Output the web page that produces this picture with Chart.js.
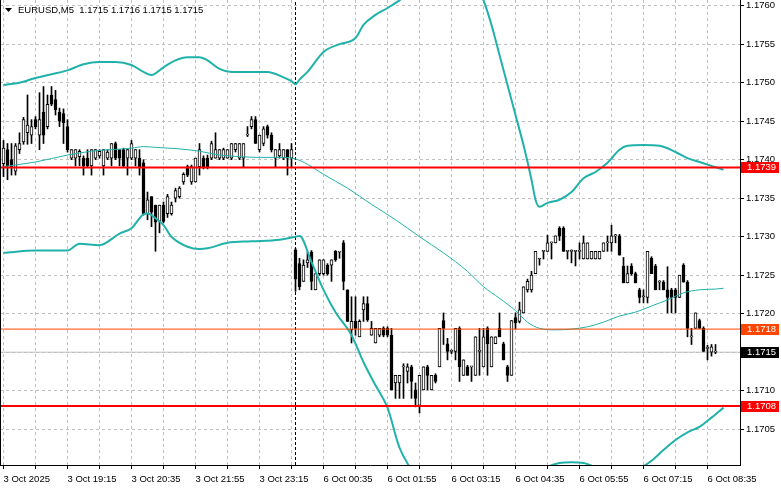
<!DOCTYPE html>
<html>
<head>
<meta charset="utf-8">
<title>EURUSD,M5</title>
<script src="https://cdn.jsdelivr.net/npm/chart.js@4.4.1/dist/chart.umd.min.js"></script>
<style>
  html, body { margin: 0; padding: 0; background: #ffffff; overflow: hidden; }
  canvas { display: block; }
</style>
</head>
<body>
<canvas id="chart" width="781" height="489"></canvas>
<script>
// ---- data (M5 candles, one per bar index) ----
const symbolInfo = "EURUSD,M5  1.1715 1.1716 1.1715 1.1715";
const timeLabels = ["3 Oct 2025", "3 Oct 19:15", "3 Oct 20:35", "3 Oct 21:55", "3 Oct 23:15", "6 Oct 00:35",
  "6 Oct 01:55", "6 Oct 03:15", "6 Oct 04:35", "6 Oct 05:55", "6 Oct 07:15", "6 Oct 08:35"];

const opens = [
  1.17395,1.17413,1.17400,1.17385,1.17413,1.17423,1.17435,1.17432,1.17452,1.17432,
  1.17462,1.17443,1.17484,1.17478,1.17462,1.17460,1.17443,1.17402,1.17402,1.17404,
  1.17402,1.17402,1.17392,1.17402,1.17405,1.17392,1.17402,1.17402,1.17421,1.17413,
  1.17413,1.17402,1.17402,1.17402,1.17402,1.17396,1.17330,1.17352,1.17341,1.17320,
  1.17341,1.17330,1.17330,1.17350,1.17352,1.17371,1.17391,1.17371,1.17371,1.17391,
  1.17402,1.17402,1.17402,1.17402,1.17402,1.17402,1.17402,1.17402,1.17413,1.17402,
  1.17402,1.17432,1.17443,1.17452,1.17413,1.17421,1.17443,1.17432,1.17402,1.17405,
  1.17402,1.17413,1.17402,1.17283,1.17265,1.17242,1.17266,1.17280,1.17231,1.17252,
  1.17252,1.17263,1.17263,1.17281,1.17280,1.17292,1.17231,1.17179,1.17190,1.17170,
  1.17205,1.17213,1.17172,1.17162,1.17172,1.17181,1.17181,1.17172,1.17110,1.17110,
  1.17131,1.17125,1.17131,1.17101,1.17081,1.17101,1.17131,1.17101,1.17120,1.17131,
  1.17191,1.17161,1.17151,1.17151,1.17181,1.17120,1.17131,1.17131,1.17120,1.17151,
  1.17131,1.17181,1.17131,1.17161,1.17181,1.17161,1.17131,1.17120,1.17195,1.17190,
  1.17201,1.17231,1.17231,1.17252,1.17271,1.17281,1.17281,1.17292,1.17292,1.17311,
  1.17311,1.17281,1.17281,1.17281,1.17281,1.17271,1.17271,1.17271,1.17271,1.17271,
  1.17281,1.17292,1.17292,1.17301,1.17301,1.17262,1.17240,1.17262,1.17252,1.17231,
  1.17222,1.17221,1.17272,1.17262,1.17241,1.17241,1.17231,1.17231,1.17231,1.17221,
  1.17263,1.17241,1.17170,1.17181,1.17191,1.17181,1.17155,1.17150,1.17150
];
const highs = [
  1.17425,1.17421,1.17421,1.17421,1.17435,1.17455,1.17484,1.17452,1.17456,1.17487,
  1.17495,1.17484,1.17495,1.17490,1.17467,1.17466,1.17452,1.17413,1.17413,1.17413,
  1.17405,1.17413,1.17413,1.17413,1.17413,1.17413,1.17413,1.17421,1.17423,1.17413,
  1.17415,1.17413,1.17425,1.17413,1.17413,1.17400,1.17358,1.17352,1.17341,1.17341,
  1.17345,1.17355,1.17345,1.17363,1.17365,1.17383,1.17393,1.17393,1.17402,1.17421,
  1.17405,1.17406,1.17424,1.17435,1.17413,1.17415,1.17413,1.17421,1.17421,1.17421,
  1.17421,1.17443,1.17456,1.17456,1.17432,1.17443,1.17445,1.17435,1.17413,1.17421,
  1.17413,1.17413,1.17421,1.17285,1.17272,1.17270,1.17280,1.17282,1.17252,1.17270,
  1.17270,1.17265,1.17270,1.17282,1.17281,1.17295,1.17231,1.17222,1.17222,1.17192,
  1.17222,1.17222,1.17190,1.17181,1.17181,1.17183,1.17183,1.17181,1.17120,1.17120,
  1.17135,1.17135,1.17133,1.17110,1.17120,1.17131,1.17133,1.17120,1.17122,1.17181,
  1.17201,1.17168,1.17153,1.17181,1.17183,1.17140,1.17133,1.17131,1.17170,1.17181,
  1.17181,1.17183,1.17170,1.17170,1.17201,1.17163,1.17133,1.17191,1.17201,1.17215,
  1.17235,1.17245,1.17255,1.17281,1.17272,1.17282,1.17302,1.17293,1.17301,1.17313,
  1.17313,1.17282,1.17283,1.17282,1.17292,1.17301,1.17292,1.17281,1.17281,1.17281,
  1.17292,1.17301,1.17315,1.17303,1.17303,1.17273,1.17262,1.17265,1.17254,1.17233,
  1.17231,1.17281,1.17274,1.17264,1.17243,1.17243,1.17261,1.17233,1.17233,1.17250,
  1.17265,1.17243,1.17181,1.17201,1.17193,1.17183,1.17159,1.17160,1.17160
];
const lows = [
  1.17378,1.17374,1.17380,1.17380,1.17408,1.17420,1.17420,1.17421,1.17440,1.17413,
  1.17421,1.17440,1.17470,1.17458,1.17443,1.17421,1.17410,1.17400,1.17392,1.17392,
  1.17380,1.17390,1.17380,1.17400,1.17402,1.17380,1.17400,1.17392,1.17400,1.17392,
  1.17390,1.17380,1.17400,1.17392,1.17380,1.17328,1.17322,1.17313,1.17281,1.17305,
  1.17318,1.17325,1.17328,1.17345,1.17350,1.17368,1.17378,1.17368,1.17371,1.17380,
  1.17388,1.17388,1.17400,1.17402,1.17400,1.17400,1.17402,1.17400,1.17410,1.17400,
  1.17391,1.17430,1.17440,1.17421,1.17410,1.17418,1.17428,1.17410,1.17391,1.17402,
  1.17400,1.17380,1.17391,1.17229,1.17231,1.17242,1.17260,1.17231,1.17231,1.17250,
  1.17250,1.17250,1.17242,1.17268,1.17272,1.17231,1.17190,1.17162,1.17172,1.17170,
  1.17190,1.17190,1.17172,1.17162,1.17170,1.17170,1.17170,1.17101,1.17090,1.17090,
  1.17090,1.17110,1.17090,1.17079,1.17071,1.17101,1.17101,1.17101,1.17110,1.17131,
  1.17160,1.17140,1.17148,1.17140,1.17112,1.17120,1.17120,1.17112,1.17120,1.17120,
  1.17131,1.17120,1.17131,1.17161,1.17170,1.17140,1.17112,1.17120,1.17180,1.17188,
  1.17201,1.17228,1.17228,1.17252,1.17263,1.17271,1.17281,1.17271,1.17292,1.17295,
  1.17281,1.17271,1.17266,1.17262,1.17271,1.17271,1.17271,1.17271,1.17271,1.17271,
  1.17281,1.17281,1.17281,1.17292,1.17276,1.17240,1.17240,1.17250,1.17240,1.17214,
  1.17214,1.17214,1.17252,1.17231,1.17231,1.17231,1.17201,1.17201,1.17201,1.17221,
  1.17241,1.17170,1.17160,1.17181,1.17181,1.17151,1.17140,1.17145,1.17148
];
const closes = [
  1.17415,1.17392,1.17390,1.17418,1.17421,1.17452,1.17445,1.17443,1.17443,1.17452,
  1.17432,1.17472,1.17472,1.17465,1.17450,1.17448,1.17413,1.17413,1.17413,1.17411,
  1.17392,1.17392,1.17413,1.17413,1.17411,1.17413,1.17410,1.17421,1.17402,1.17402,
  1.17392,1.17413,1.17421,1.17413,1.17391,1.17330,1.17348,1.17332,1.17319,1.17341,
  1.17320,1.17352,1.17341,1.17360,1.17363,1.17381,1.17380,1.17391,1.17402,1.17413,
  1.17391,1.17391,1.17421,1.17413,1.17413,1.17413,1.17413,1.17421,1.17421,1.17421,
  1.17421,1.17433,1.17452,1.17421,1.17432,1.17440,1.17432,1.17413,1.17413,1.17413,
  1.17413,1.17402,1.17413,1.17245,1.17235,1.17263,1.17270,1.17242,1.17252,1.17270,
  1.17270,1.17252,1.17270,1.17270,1.17280,1.17242,1.17190,1.17190,1.17181,1.17190,
  1.17213,1.17192,1.17181,1.17181,1.17181,1.17172,1.17172,1.17101,1.17120,1.17120,
  1.17131,1.17131,1.17112,1.17090,1.17120,1.17131,1.17120,1.17120,1.17112,1.17181,
  1.17181,1.17151,1.17151,1.17181,1.17131,1.17140,1.17120,1.17131,1.17170,1.17151,
  1.17170,1.17161,1.17170,1.17170,1.17170,1.17140,1.17120,1.17191,1.17188,1.17205,
  1.17235,1.17242,1.17250,1.17281,1.17271,1.17281,1.17292,1.17292,1.17301,1.17301,
  1.17281,1.17281,1.17281,1.17281,1.17281,1.17292,1.17292,1.17281,1.17281,1.17281,
  1.17292,1.17292,1.17301,1.17301,1.17276,1.17240,1.17252,1.17252,1.17240,1.17221,
  1.17222,1.17281,1.17252,1.17231,1.17241,1.17231,1.17221,1.17221,1.17221,1.17250,
  1.17241,1.17181,1.17170,1.17201,1.17181,1.17151,1.17155,1.17157,1.17150
];

// Bollinger bands, read at selected bar indices
const upperIdx = [0,4,8,12,16,20,24,28,32,35,37,40,43,46,49,51,54,57,62,66,70,72,73,74,76,80,84,88,90,93,96,99,102,106,110,114,118,120,122,124,126,128,130,132,133,134,136,139,142,145,148,151,154,156,160,164,168,171,174,177,180];
const upperBand = [1.17497,1.17500,1.17506,1.17511,1.17516,1.17524,1.17527,1.17527,1.17523,1.17514,1.17510,1.17520,1.17529,1.17533,1.17533,1.17529,1.17518,1.17514,1.17514,1.17514,1.17507,1.17502,1.17498,1.17504,1.17514,1.17540,1.17550,1.17558,1.17575,1.17588,1.17597,1.17607,1.17618,1.17633,1.17646,1.17649,1.17627,1.17607,1.17575,1.17536,1.17497,1.17458,1.17419,1.17374,1.17348,1.17339,1.17344,1.17348,1.17358,1.17376,1.17384,1.17396,1.17413,1.17418,1.17419,1.17418,1.17410,1.17402,1.17397,1.17392,1.17387];
const middleIdx = [0,8,16,22,32,35,38,44,49,54,59,64,70,73,76,80,86,92,98,104,110,116,120,124,128,131,134,138,142,146,150,154,158,162,166,170,174,178,180];
const middleBand = [1.17391,1.17397,1.17406,1.17411,1.17415,1.17417,1.17416,1.17414,1.17411,1.17406,1.17404,1.17403,1.17403,1.17401,1.17394,1.17381,1.17363,1.17342,1.17322,1.17300,1.17279,1.17255,1.17235,1.17220,1.17204,1.17189,1.17181,1.17179,1.17180,1.17183,1.17189,1.17197,1.17202,1.17210,1.17218,1.17227,1.17231,1.17232,1.17233];
const lowerIdx = [0,8,16,19,24,29,32,35,36,38,40,42,46,49,51,56,62,69,73,74,77,80,83,87,90,93,96,99,102,106,110,114,118,122,126,130,134,136,139,142,145,148,152,156,160,162,165,168,171,174,177,180];
const lowerBand = [1.17279,1.17282,1.17282,1.17291,1.17289,1.17304,1.17311,1.17329,1.17330,1.17324,1.17315,1.17300,1.17287,1.17284,1.17285,1.17292,1.17294,1.17296,1.17300,1.17301,1.17267,1.17231,1.17202,1.17172,1.17137,1.17107,1.17078,1.17026,1.16997,1.16964,1.16932,1.16900,1.16874,1.16893,1.16932,1.16965,1.16994,1.17001,1.17006,1.17007,1.17006,1.17001,1.16994,1.16994,1.17002,1.17009,1.17023,1.17036,1.17046,1.17053,1.17065,1.17078];

const priceTicks = [1.1705, 1.1710, 1.1715, 1.1720, 1.1725, 1.1730, 1.1735, 1.1740, 1.1745, 1.1750, 1.1755, 1.1760];
const levelPrices = [1.1739, 1.1718, 1.1708];
const lastPrice = 1.1715;
const separatorBar = 73;

// ---- view window: 4 px per bar, price range of the visible pane ----
const barMin = -0.875;
const barMax = 184.125;
const priceMin = 1.170035;
const priceMax = 1.176074;
const labelEvery = 16;
const gridEvery = 8;

const FONT = '"Liberation Sans", Arial, sans-serif';
const FONT_SIZE = 9.5;
const TEAL = "#20b2aa";
const levelColors = ["#ff0000", "#ff4500", "#ff0000"];

function pts(idx, vals) {
  return idx.map((x, k) => ({ x: x, y: vals[k] }));
}

function hline(price) {
  return [{ x: barMin - 1, y: price }, { x: barMax + 1, y: price }];
}

const overlayPlugin = {
  id: "overlay",
  afterDraw(chart) {
    const { ctx, chartArea } = chart;
    const yScale = chart.scales.y;
    ctx.save();
    // left frame line
    ctx.strokeStyle = "#000";
    ctx.lineWidth = 1;
    ctx.beginPath();
    ctx.moveTo(chartArea.left + 0.5, chartArea.top);
    ctx.lineTo(chartArea.left + 0.5, chartArea.bottom);
    ctx.stroke();

    // price tags on the right axis
    ctx.font = FONT_SIZE + "px " + FONT;
    ctx.textBaseline = "middle";
    ctx.textAlign = "left";
    const tags = levelPrices.map((p, k) => [p, levelColors[k]]).concat([[lastPrice, "#000000"]]);
    tags.forEach(([p, color]) => {
      const py = Math.round(yScale.getPixelForValue(p));
      ctx.fillStyle = color;
      ctx.fillRect(chartArea.right + 1, py - 5, 38, 11);
      ctx.fillStyle = "#ffffff";
      ctx.fillText(p.toFixed(4), chartArea.right + 7, py + 0.5);
    });

    // symbol caption
    ctx.fillStyle = "#000";
    ctx.beginPath();
    ctx.moveTo(5, 8);
    ctx.lineTo(12, 8);
    ctx.lineTo(8.5, 12);
    ctx.closePath();
    ctx.fill();
    ctx.fillText(symbolInfo, 18, 10.5);
    ctx.restore();
  },
};

function initChart() {
  const ctx = document.getElementById("chart");
  if (!ctx) {
    return;
  }
  Chart.defaults.font.family = FONT;
  Chart.defaults.font.size = FONT_SIZE;
  Chart.defaults.color = "#000";

  const bars = opens.map((o, i) => i);
  const bodyColors = bars.map((i) => (closes[i] >= opens[i] ? "#ffffff" : "#000000"));

  new Chart(ctx, {
    type: "bar",
    plugins: [overlayPlugin],
    data: {
      datasets: [
        {
          type: "line", label: "levels-1739", data: hline(levelPrices[0]),
          borderColor: levelColors[0], borderWidth: 2, pointRadius: 0, order: 0,
        },
        {
          type: "line", label: "levels-1718", data: hline(levelPrices[1]),
          borderColor: levelColors[1], borderWidth: 1, pointRadius: 0, order: 0,
        },
        {
          type: "line", label: "levels-1708", data: hline(levelPrices[2]),
          borderColor: levelColors[2], borderWidth: 2, pointRadius: 0, order: 0,
        },
        {
          type: "line", label: "upper", data: pts(upperIdx, upperBand),
          borderColor: TEAL, borderWidth: 2, pointRadius: 0, cubicInterpolationMode: "monotone", order: 1,
        },
        {
          type: "line", label: "middle", data: pts(middleIdx, middleBand),
          borderColor: TEAL, borderWidth: 1, pointRadius: 0, cubicInterpolationMode: "monotone", order: 1,
        },
        {
          type: "line", label: "lower", data: pts(lowerIdx, lowerBand),
          borderColor: TEAL, borderWidth: 2, pointRadius: 0, cubicInterpolationMode: "monotone", order: 1,
        },
        {
          type: "bar", label: "bodies",
          data: bars.map((i) => ({ x: i, y: [opens[i], closes[i]] })),
          backgroundColor: bodyColors, borderColor: "#000", borderWidth: 1, borderSkipped: false,
          barThickness: 3, minBarLength: 1, grouped: false, order: 2,
        },
        {
          type: "bar", label: "wicks",
          data: bars.map((i) => ({ x: i, y: [lows[i], highs[i]] })),
          backgroundColor: "#000", borderWidth: 0,
          barThickness: 1, minBarLength: 1, grouped: false, order: 3,
        },
        {
          type: "line", label: "bid", data: hline(lastPrice),
          borderColor: "#c0c0c0", borderWidth: 1, pointRadius: 0, order: 4,
        },
        {
          type: "line", label: "separator",
          data: [{ x: separatorBar, y: priceMin }, { x: separatorBar, y: priceMax }],
          borderColor: "#000", borderWidth: 1, borderDash: [3, 2], pointRadius: 0, order: 5,
        },
      ],
    },
    options: {
      responsive: false,
      devicePixelRatio: 1,
      animation: false,
      layout: { padding: 0 },
      plugins: {
        legend: { display: false },
        tooltip: { enabled: false },
      },
      scales: {
        x: {
          type: "linear",
          position: "bottom",
          min: barMin,
          max: barMax,
          offset: false,
          afterBuildTicks: (s) => {
            const t = [];
            for (let v = 0; v <= 176; v += gridEvery) t.push({ value: v });
            s.ticks = t;
          },
          afterFit: (s) => {
            s.height = 24;
            s.paddingLeft = 0;
            s.paddingRight = 0;
          },
          grid: { offset: false, color: "#c0c0c0", tickColor: "#000", tickLength: 4, tickBorderDash: [] },
          border: { display: true, color: "#000", width: 1, dash: [3, 3] },
          ticks: {
            autoSkip: false,
            maxRotation: 0,
            align: "start",
            padding: 5,
            color: "#000",
            callback: (v) => (v % labelEvery === 0 ? timeLabels[v / labelEvery] || "" : ""),
          },
        },
        y: {
          type: "linear",
          position: "right",
          min: priceMin,
          max: priceMax,
          afterBuildTicks: (s) => {
            s.ticks = priceTicks.map((v) => ({ value: v }));
          },
          afterFit: (s) => {
            s.width = 41;
            s.paddingTop = 0;
            s.paddingBottom = 0;
          },
          grid: { color: "#c0c0c0", tickColor: "#000", tickLength: 4, tickBorderDash: [] },
          border: { display: true, color: "#000", width: 1, dash: [3, 3] },
          ticks: {
            autoSkip: false,
            padding: 2,
            color: "#000",
            callback: (v) => v.toFixed(4),
          },
        },
      },
    },
  });
}

initChart();
</script>
</body>
</html>
